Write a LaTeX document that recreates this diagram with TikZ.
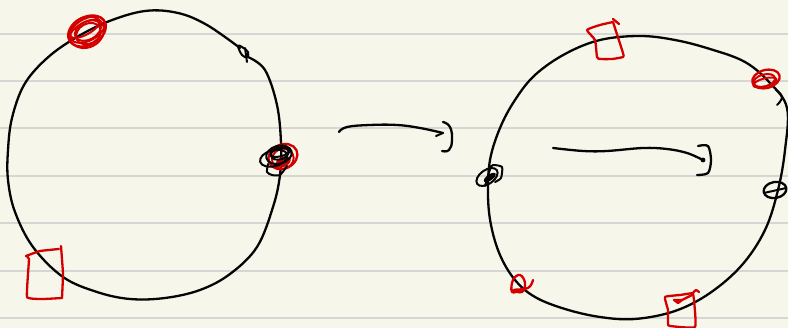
\documentclass[tikz,border=0pt]{standalone}
\definecolor{paper}{HTML}{F7F6EA}
\definecolor{rule}{HTML}{D6D6D4}
\definecolor{ink}{HTML}{050505}
\definecolor{redink}{HTML}{D40000}
\tikzset{
  rulingline/.style={draw=rule,line width=1.5pt},
  pen/.style={draw=ink,line width=2.3pt,line cap=round,line join=round},
  redpen/.style={draw=redink,line width=2.3pt,line cap=round,line join=round},
  thinpen/.style={draw=ink,line width=2pt,line cap=round,line join=round},
  thinred/.style={draw=redink,line width=2pt,line cap=round,line join=round}
}
\begin{document}
\begin{tikzpicture}[x=1pt,y=-1pt]
\useasboundingbox (0,0) rectangle (788,328);
\clip (0,0) rectangle (788,328);
\fill[paper] (0,0) rectangle (788,328);
\foreach \yy in {34,81,128,176,223,271,318}
  \draw[rulingline] (0,\yy) -- (788,\yy);

% left blob
\draw[pen] plot[smooth,tension=0.6] coordinates {(240,48)(207,25)(178,13)(145,11)(107,22)(72,40)(45,60)(24,85)(12,118)(8,150)(8,180)(15,212)(33,247)(63,277)(97,292)(130,299)(165,298)(200,290)(230,274)(257,247)(273,207)(280,175)(281,143)(277,105)(265,70)(248,57)};
\draw[thinpen] plot[smooth cycle,tension=0.7] coordinates {(238,46)(242,47)(248,52)(247,57)(242,55)};
\draw[thinpen] (245,48) -- (247,62);

% right blob
\draw[pen] plot[smooth cycle,tension=0.6] coordinates {(488,195)(490,160)(500,128)(515,100)(535,75)(565,54)(600,40)(640,36)(675,40)(710,49)(745,62)(770,83)(787,108)(785,150)(778,190)(765,230)(742,265)(710,293)(675,311)(635,319)(600,317)(565,309)(535,297)(515,280)(500,255)(491,225)};

% arrow one
\draw[pen] plot[smooth,tension=0.7] coordinates {(339,132)(347,127)(370,125)(397,125)(420,128)(443,133)};
\draw[thinpen] (436,136) -- (443,133);
\draw[pen] plot[smooth,tension=0.8] coordinates {(443,122)(450,127)(452,140)(449,150)(442,151)};

% arrow two
\draw[pen] plot[smooth,tension=0.6] coordinates {(553,148)(583,151)(607,151)(643,148)(667,149)(687,153)(703,160)};
\fill[ink] (703,160) circle (2.4pt);
\draw[pen] plot[smooth,tension=0.5] coordinates {(698,146)(708,146)(711,160)(708,173)(697,175)};
\draw[thinpen] plot[smooth,tension=0.8] coordinates {(776,90)(782,97)(777,105)};

% red squares
\draw[redpen] plot[smooth,tension=0.2] coordinates {(26,256)(40,251)(59,249)};
\draw[redpen] plot[smooth,tension=0.2] coordinates {(61,246)(63,274)(62,298)};
\draw[redpen] plot[smooth,tension=0.2] coordinates {(62,298)(43,299)(27,297)(29,259)(26,256)};

\draw[redpen] plot[smooth,tension=0.3] coordinates {(613,22)(600,25)(587,30)(595,40)(597,57)(600,59)(612,59)(623,57)(623,53)(613,22)};
\draw[redpen] (613,19) -- (619,24);

\draw[redpen] plot[smooth,tension=0.25] coordinates {(693,293)(680,295)(665,297)(668,310)(668,324)(670,326)(695,327)(694,300)(693,293)(696,290)(699,292)};
\draw[redpen] (692,295) -- (682,300) -- (674,300) -- (678,303) -- (682,300);

% red scribble, bottom
\draw[redpen] plot[smooth,tension=0.7] coordinates {(520,290)(512,292)(513,280)(520,275)(525,283)(522,292)(514,290)(528,288)(533,280)};

% red scribble, upper left
\begin{scope}[shift={(87,31)},rotate=28]
\draw[redpen] (0,0) ellipse (20 and 14);
\draw[thinred] (1,-1) ellipse (19 and 11);
\draw[thinred] (-1,1) ellipse (18 and 15);
\draw[thinred] (1,0) ellipse (14 and 9);
\draw[thinred] (0,3) ellipse (13 and 10);
\draw[thinred] (-1,-3) ellipse (16 and 6);
\end{scope}

% red scribble, upper right
\begin{scope}[shift={(766,79)},rotate=15]
\draw[redpen] (0,0) ellipse (14 and 9);
\draw[thinred] (-2,1) ellipse (11 and 6);
\draw[thinred] (-2,3) ellipse (12 and 4);
\end{scope}

% scribble on the left blob
\begin{scope}[shift={(282,157)},rotate=25]
\draw[redpen] (1,0) ellipse (15 and 12);
\draw[thinred] (0,2) ellipse (11 and 10);
\fill[redink] (-1,5) ellipse (8 and 5);
\end{scope}
\begin{scope}[shift={(278,155)},rotate=15]
\draw[thinpen] (-5,2) ellipse (14 and 8);
\draw[thinpen] (1,0) ellipse (13 and 9);
\draw[thinpen] (2,-1) ellipse (9 and 6);
\draw[thinpen] (3,-2) ellipse (10 and 4);
\end{scope}
\draw[thinpen] plot[smooth,tension=0.4] coordinates {(268,164)(267,172)(272,175)(280,175)(287,166)};

% black scribble, left of the right blob
\begin{scope}[shift={(487,177)},rotate=35]
\draw[thinpen] (0,0) ellipse (12 and 7);
\fill[ink] (2,2) ellipse (7 and 3);
\end{scope}
\draw[thinpen] plot[smooth,tension=0.4] coordinates {(490,168)(493,165)(502,167)(501,178)(495,182)};
\draw[thinpen] (491,166) -- (485,186);

% black scribble, right of the right blob
\begin{scope}[shift={(775,190)},rotate=10]
\draw[pen] (0,0) ellipse (11.5 and 8);
\draw[thinpen] (-11,1) -- (11,0);
\end{scope}
\end{tikzpicture}
\end{document}
